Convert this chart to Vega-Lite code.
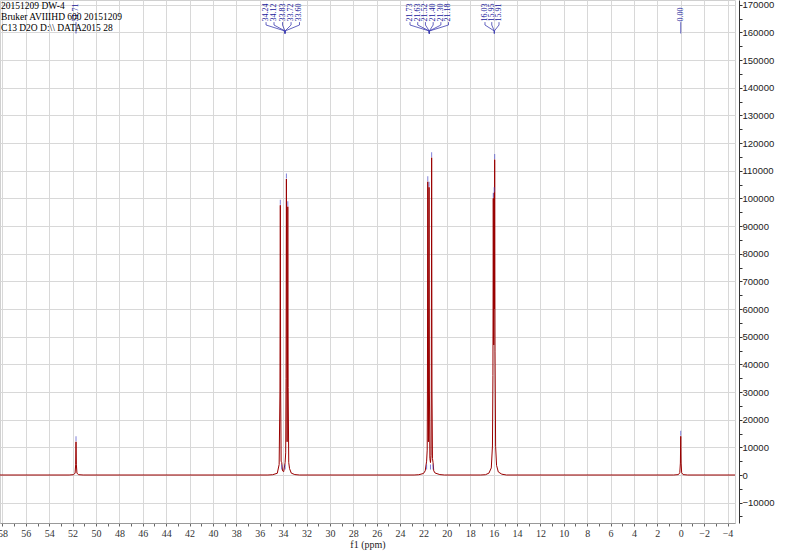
{
  "$schema": "https://vega.github.io/schema/vega-lite/v6.json",
  "width": 735,
  "height": 523,
  "autosize": "none",
  "padding": {"left": 0, "top": 0, "right": 54, "bottom": 29},
  "background": "white",
  "config": {"view": {"stroke": "#d0d0d0"}},
  "datasets": {
    "spectrum": [
      {"ppm": 58.21, "intensity": 0}, {"ppm": 52.3, "intensity": 0}, {"ppm": 51.91, "intensity": 120}, {"ppm": 51.79, "intensity": 700},
      {"ppm": 51.74, "intensity": 3700}, {"ppm": 51.71, "intensity": 12000}, {"ppm": 51.68, "intensity": 3700}, {"ppm": 51.63, "intensity": 700},
      {"ppm": 51.51, "intensity": 120}, {"ppm": 51.1, "intensity": 0},
      {"ppm": 35.3, "intensity": 0}, {"ppm": 34.9, "intensity": 100}, {"ppm": 34.5, "intensity": 620}, {"ppm": 34.34, "intensity": 3800},
      {"ppm": 34.27, "intensity": 30000}, {"ppm": 34.24, "intensity": 97500}, {"ppm": 34.21, "intensity": 30300}, {"ppm": 34.17, "intensity": 5000},
      {"ppm": 34.12, "intensity": 4500}, {"ppm": 34.05, "intensity": 1500}, {"ppm": 33.95, "intensity": 1200}, {"ppm": 33.83, "intensity": 4500},
      {"ppm": 33.78, "intensity": 8000}, {"ppm": 33.75, "intensity": 34900}, {"ppm": 33.72, "intensity": 107000}, {"ppm": 33.66, "intensity": 12000},
      {"ppm": 33.63, "intensity": 34700}, {"ppm": 33.6, "intensity": 97000}, {"ppm": 33.57, "intensity": 31600}, {"ppm": 33.52, "intensity": 4500},
      {"ppm": 33.45, "intensity": 2300}, {"ppm": 33.3, "intensity": 670}, {"ppm": 33.0, "intensity": 150}, {"ppm": 32.6, "intensity": 0},
      {"ppm": 22.8, "intensity": 0}, {"ppm": 22.4, "intensity": 100}, {"ppm": 22.0, "intensity": 550}, {"ppm": 21.85, "intensity": 1500},
      {"ppm": 21.73, "intensity": 5000}, {"ppm": 21.68, "intensity": 9000}, {"ppm": 21.66, "intensity": 30000}, {"ppm": 21.63, "intensity": 106000},
      {"ppm": 21.575, "intensity": 12000}, {"ppm": 21.52, "intensity": 104000}, {"ppm": 21.49, "intensity": 30000}, {"ppm": 21.45, "intensity": 6000},
      {"ppm": 21.4, "intensity": 4500}, {"ppm": 21.35, "intensity": 7000}, {"ppm": 21.33, "intensity": 30000}, {"ppm": 21.3, "intensity": 114700},
      {"ppm": 21.27, "intensity": 30000}, {"ppm": 21.23, "intensity": 6000}, {"ppm": 21.18, "intensity": 4500}, {"ppm": 21.12, "intensity": 1500},
      {"ppm": 21.0, "intensity": 700}, {"ppm": 20.6, "intensity": 150}, {"ppm": 20.2, "intensity": 0},
      {"ppm": 17.1, "intensity": 0}, {"ppm": 16.7, "intensity": 100}, {"ppm": 16.4, "intensity": 680}, {"ppm": 16.2, "intensity": 2550},
      {"ppm": 16.1, "intensity": 10500}, {"ppm": 16.06, "intensity": 35900}, {"ppm": 16.03, "intensity": 100000}, {"ppm": 15.99, "intensity": 47000},
      {"ppm": 15.95, "intensity": 102000}, {"ppm": 15.93, "intensity": 60000}, {"ppm": 15.91, "intensity": 114000}, {"ppm": 15.88, "intensity": 44500},
      {"ppm": 15.83, "intensity": 10400}, {"ppm": 15.75, "intensity": 3500}, {"ppm": 15.6, "intensity": 1100}, {"ppm": 15.3, "intensity": 300},
      {"ppm": 14.9, "intensity": 0},
      {"ppm": 0.6, "intensity": 0}, {"ppm": 0.2, "intensity": 140}, {"ppm": 0.08, "intensity": 830}, {"ppm": 0.03, "intensity": 4300},
      {"ppm": 0, "intensity": 14000}, {"ppm": -0.03, "intensity": 4300}, {"ppm": -0.08, "intensity": 830}, {"ppm": -0.2, "intensity": 140},
      {"ppm": -0.6, "intensity": 0}, {"ppm": -4.64, "intensity": 0}
    ],
    "peaks": [
      {"ppm": 51.71, "label": "51.71", "height": 12000, "lx": 51.71, "cx": 51.71},
      {"ppm": 34.24, "label": "34.24", "height": 97500, "lx": 35.46, "cx": 33.84},
      {"ppm": 34.12, "label": "34.12", "height": 1800, "lx": 34.78, "cx": 33.84},
      {"ppm": 33.83, "label": "33.83", "height": 1800, "lx": 34.05, "cx": 33.84},
      {"ppm": 33.72, "label": "33.72", "height": 107000, "lx": 33.32, "cx": 33.84},
      {"ppm": 33.6, "label": "33.60", "height": 97000, "lx": 32.6, "cx": 33.84},
      {"ppm": 21.73, "label": "21.73", "height": 1800, "lx": 23.15, "cx": 21.5},
      {"ppm": 21.63, "label": "21.63", "height": 106000, "lx": 22.49, "cx": 21.5},
      {"ppm": 21.52, "label": "21.52", "height": 104000, "lx": 21.83, "cx": 21.5},
      {"ppm": 21.4, "label": "21.40", "height": 1800, "lx": 21.17, "cx": 21.5},
      {"ppm": 21.3, "label": "21.30", "height": 114700, "lx": 20.51, "cx": 21.5},
      {"ppm": 21.18, "label": "21.18", "height": 1800, "lx": 19.86, "cx": 21.5},
      {"ppm": 16.03, "label": "16.03", "height": 100000, "lx": 16.74, "cx": 15.94},
      {"ppm": 15.95, "label": "15.95", "height": 102000, "lx": 16.16, "cx": 15.94},
      {"ppm": 15.91, "label": "15.91", "height": 114000, "lx": 15.54, "cx": 15.94},
      {"ppm": 0, "label": "0.00", "height": 14000, "lx": 0, "cx": 0}
    ]
  },
  "layer": [
    {
      "data": {"name": "spectrum"},
      "mark": {"type": "line", "color": "#990000", "strokeWidth": 1, "clip": true},
      "encoding": {
        "x": {
          "field": "ppm", "type": "quantitative",
          "scale": {"domain": [58.21, -4.64], "nice": false, "zero": false},
          "axis": {
            "values": [-4,-3,-2,-1,0,1,2,3,4,5,6,7,8,9,10,11,12,13,14,15,16,17,18,19,20,21,22,23,24,25,26,27,28,29,30,31,32,33,34,35,36,37,38,39,40,41,42,43,44,45,46,47,48,49,50,51,52,53,54,55,56,57,58],
            "tickCount": 200,
            "format": "d",
            "labelExpr": "datum.value % 2 == 0 ? datum.label : ''",
            "title": "f1 (ppm)",
            "titleFont": "Liberation Serif", "titleFontSize": 10, "titleFontWeight": "normal", "titleColor": "#222",
            "titlePadding": 1,
            "labelFont": "Liberation Serif", "labelFontSize": 10, "labelColor": "#333",
            "labelOverlap": false, "labelFlush": false, "labelBound": false, "labelPadding": 2,
            "tickSize": 3,
            "tickColor": "#666",
            "domainColor": "#999",
            "grid": true,
            "gridColor": "#d8d8d8",
            "gridOpacity": {"condition": {"test": "datum.value % 2 == 0", "value": 1}, "value": 0}
          }
        },
        "y": {
          "field": "intensity", "type": "quantitative",
          "scale": {"domain": [-17350, 171700], "nice": false, "zero": false},
          "axis": {
            "orient": "right",
            "values": [-15000,-10000,-5000,0,5000,10000,15000,20000,25000,30000,35000,40000,45000,50000,55000,60000,65000,70000,75000,80000,85000,90000,95000,100000,105000,110000,115000,120000,125000,130000,135000,140000,145000,150000,155000,160000,165000,170000],
            "tickCount": 200,
            "format": "d",
            "labelExpr": "datum.value % 10000 == 0 ? datum.label : ''",
            "title": null,
            "offset": 4,
            "tickSize": 3, "tickColor": "#333",
            "labelPadding": 0,
            "labelFont": "Liberation Sans", "labelFontSize": 9.5, "labelColor": "#222",
            "labelOverlap": false, "labelFlush": false, "labelBound": false,
            "domainColor": "#333",
            "grid": true,
            "gridColor": "#d8d8d8",
            "gridOpacity": {"condition": {"test": "datum.value % 10000 == 0", "value": 1}, "value": 0}
          }
        }
      }
    },
    {
      "data": {"name": "peaks"},
      "mark": {"type": "tick", "orient": "vertical", "size": 5, "thickness": 1, "yOffset": -3, "color": "#4a4ac8"},
      "encoding": {
        "x": {"field": "ppm", "type": "quantitative"},
        "y": {"field": "height", "type": "quantitative"}
      }
    },
    {
      "data": {"name": "peaks"},
      "mark": {"type": "text", "angle": 270, "align": "left", "baseline": "middle", "font": "Liberation Serif", "fontSize": 8, "color": "#20209c"},
      "encoding": {
        "x": {"field": "lx", "type": "quantitative"},
        "y": {"datum": 163900},
        "text": {"field": "label"}
      }
    },
    {
      "data": {"name": "peaks"},
      "mark": {"type": "rule", "color": "#3c3cb0", "strokeWidth": 0.8},
      "encoding": {
        "x": {"field": "lx", "type": "quantitative"}, "x2": {"field": "lx"},
        "y": {"datum": 163700}, "y2": {"datum": 162660}
      }
    },
    {
      "data": {"name": "peaks"},
      "mark": {"type": "rule", "color": "#3c3cb0", "strokeWidth": 0.8},
      "encoding": {
        "x": {"field": "lx", "type": "quantitative"}, "x2": {"field": "cx"},
        "y": {"datum": 162660}, "y2": {"datum": 160490}
      }
    },
    {
      "data": {"name": "peaks"},
      "mark": {"type": "rule", "color": "#3c3cb0", "strokeWidth": 0.8},
      "encoding": {
        "x": {"field": "cx", "type": "quantitative"}, "x2": {"field": "cx"},
        "y": {"datum": 160490}, "y2": {"datum": 159590}
      }
    },
    {
      "data": {"values": [{}]},
      "mark": {"type": "text", "align": "left", "baseline": "top", "font": "Liberation Serif", "fontSize": 9.5, "lineHeight": 11, "color": "#000"},
      "encoding": {
        "x": {"datum": 58.12},
        "y": {"datum": 171400},
        "text": {"value": ["20151209 DW-4", "Bruker AVIIIHD 600 20151209", "C13 D2O D:\\\\ DATA2015 28"]}
      }
    }
  ]
}
